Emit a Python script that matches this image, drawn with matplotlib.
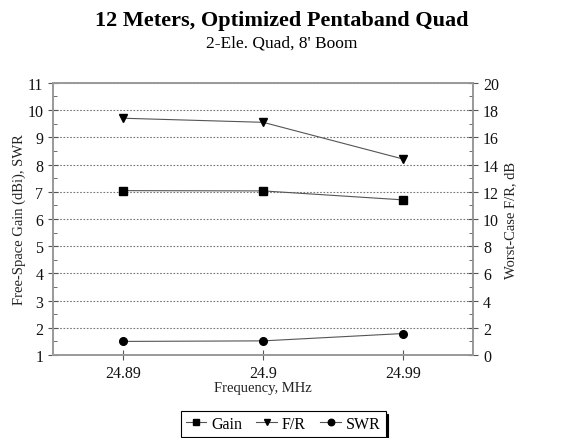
import numpy as np
import matplotlib
matplotlib.use("Agg")
import matplotlib.pyplot as plt
from matplotlib.ticker import MultipleLocator

plt.rcParams['font.family'] = ['Liberation Serif', 'DejaVu Serif']

# data
freqs = ["24.89", "24.9", "24.99"]
gain = [7.04, 7.03, 6.70]
fr = [17.4, 17.1, 14.4]
swr = [1.50, 1.52, 1.79]

fig = plt.figure(figsize=(5.64, 4.39), dpi=100)
ax = fig.add_axes([0.094, 0.189, 0.745, 0.62])
ax2 = ax.twinx()

x = np.arange(len(freqs))
line_kw = dict(color="#000000", lw=0.8, markersize=5.5)
hg, = ax.plot(x, gain, marker="s", label="Gain", **line_kw)
hs, = ax.plot(x, swr, marker="o", label="SWR", **line_kw)
hf, = ax2.plot(x, fr, marker="v", label="F/R", **line_kw)
for h in (hg, hs, hf):
    h.set_color("#555555")
    h.set_markerfacecolor("black")
    h.set_markeredgecolor("black")

ax.set_xlim(-0.5, 2.5)
ax.set_xticks(x)
ax.set_xticklabels(freqs)
ax.set_ylim(1, 11)
ax.yaxis.set_major_locator(MultipleLocator(1))
ax.yaxis.set_minor_locator(MultipleLocator(0.5))
ax2.set_ylim(0, 20)
ax2.yaxis.set_major_locator(MultipleLocator(2))
ax2.yaxis.set_minor_locator(MultipleLocator(1))

ax.grid(axis="y", linestyle=(0, (1.5, 1.5)), color="#777777", lw=0.8)
for a in (ax, ax2):
    for s in a.spines.values():
        s.set_color("#999999")
        s.set_linewidth(1.2)
    a.tick_params(which="both", colors="#555555", labelcolor="#111111", labelsize=11.5)
    a.tick_params(which="major", direction="inout", length=7)
    a.tick_params(which="minor", direction="in", length=3)
ax.tick_params(axis="x", direction="inout", length=7)

ax.set_ylabel("Free-Space Gain (dBi), SWR", fontsize=10.5, color="#222222", labelpad=1)
ax2.set_ylabel("Worst-Case F/R, dB", fontsize=10.5, color="#222222", labelpad=4)
ax.set_xlabel("Frequency, MHz", fontsize=10.5, color="#222222", labelpad=0)

fig.text(0.5, 0.953, "12 Meters, Optimized Pentaband Quad", ha="center", va="center",
         fontsize=16, fontweight="bold")
fig.text(0.5, 0.902, "2-Ele. Quad, 8' Boom", ha="center", va="center", fontsize=12.5)

leg = fig.legend([hg, hf, hs], ["Gain", "F/R", "SWR"], loc="center",
                 bbox_to_anchor=(0.502, 0.032), ncol=3, fontsize=11.5, frameon=True,
                 fancybox=False, shadow={"color": "black", "alpha": 1},
                 handlelength=1.3, handletextpad=0.3, markerscale=0.85,
                 columnspacing=0.9, borderpad=0.3, borderaxespad=0.2)
leg.get_frame().set_edgecolor("black")
leg.get_frame().set_linewidth(0.8)

plt.savefig("out.png", dpi=100)
